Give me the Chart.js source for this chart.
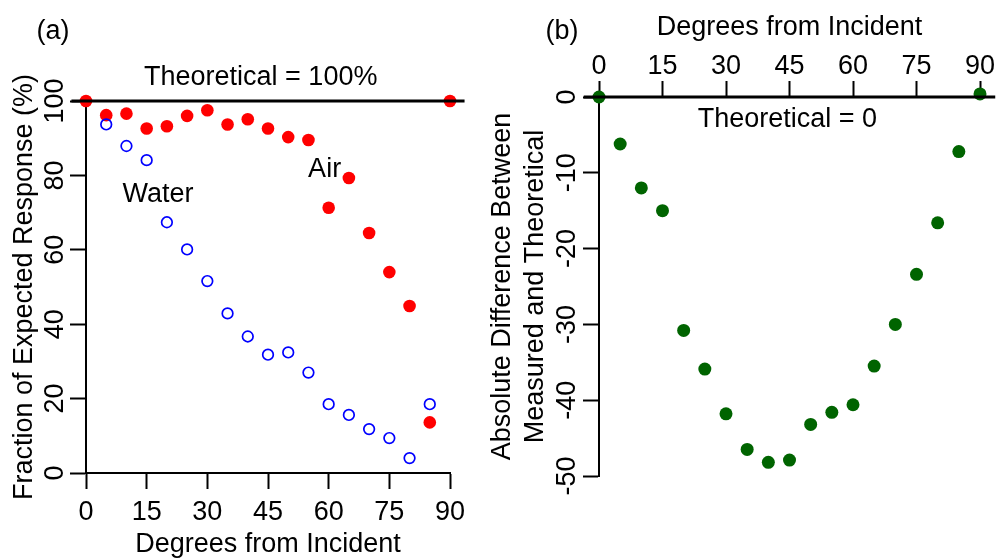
<!DOCTYPE html>
<html>
<head>
<meta charset="utf-8">
<script src="https://cdn.jsdelivr.net/npm/chart.js"></script>
<style>
  body { margin: 0; background: #fff; }
  .panel { position: absolute; top: 0; height: 558px; }
  #wrapA { left: 0; width: 480px; }
  #wrapB { left: 480px; width: 517px; }
</style>
</head>
<body>
<div class="panel" id="wrapA"><canvas id="chartA"></canvas></div>
<div class="panel" id="wrapB"><canvas id="chartB"></canvas></div>
<script>
// data
const degrees = [0, 5, 10, 15, 20, 25, 30, 35, 40, 45, 50, 55, 60, 65, 70, 75, 80, 85, 90];
const air = [100, 96.2, 96.6, 92.6, 93.2, 96.0, 97.5, 93.7, 95.1, 92.6, 90.3, 89.5, 71.3, 79.3, 64.5, 54.0, 44.9, 13.6, 100];
const waterDegrees = [5, 10, 15, 20, 25, 30, 35, 40, 45, 50, 55, 60, 65, 70, 75, 80, 85];
const water = [93.7, 87.9, 84.1, 67.4, 60.1, 51.6, 42.9, 36.7, 31.8, 32.4, 27.0, 18.5, 15.6, 11.8, 9.4, 4.0, 18.5];
const difference = [0, -6.2, -12.0, -15.0, -30.8, -35.9, -41.8, -46.5, -48.2, -47.9, -43.2, -41.6, -40.6, -35.5, -30.0, -23.4, -16.6, -7.2, 0.4];

const xTicks = [0, 15, 30, 45, 60, 75, 90];
const yTicksA = [0, 20, 40, 60, 80, 100];
const yTicksB = [0, -10, -20, -30, -40, -50];
const theoreticalA = 100;
const theoreticalB = 0;

const FONT = '27px "Liberation Sans", Arial, sans-serif';
const usrPad = 0.04; // R-style plot region padding for the reference line

function pts(xs, ys) { return xs.map((x, i) => ({ x: x, y: ys[i] })); }

function text(ctx, s, x, y, rotate) {
  ctx.save();
  ctx.translate(x, y);
  if (rotate) ctx.rotate(-Math.PI / 2);
  ctx.fillText(s, 0, 0);
  ctx.restore();
}

function refLine(chart, value) {
  const xs = chart.scales.x, ys = chart.scales.y;
  const span = xs.max - xs.min;
  const ctx = chart.ctx;
  ctx.save();
  ctx.strokeStyle = '#000';
  ctx.lineWidth = 3;
  ctx.beginPath();
  ctx.moveTo(xs.getPixelForValue(xs.min - usrPad * span), ys.getPixelForValue(value));
  ctx.lineTo(xs.getPixelForValue(xs.max + usrPad * span), ys.getPixelForValue(value));
  ctx.stroke();
  ctx.restore();
}

function axisScales(xOpts, yOpts, xSize, ySize) {
  const common = {
    type: 'linear',
    grid: { drawOnChartArea: false, drawTicks: true, tickLength: 16, tickWidth: 2, tickColor: '#000' },
    border: { display: true, color: '#000', width: 2 },
    ticks: { display: false },
    z: 1
  };
  return {
    x: Object.assign({}, common, xOpts, { afterFit: s => { s.height = xSize; } }),
    y: Object.assign({}, common, yOpts, { afterFit: s => { s.width = ySize; } })
  };
}

const baseOptions = {
  responsive: true,
  maintainAspectRatio: false,
  animation: false,
  events: [],
  plugins: { legend: { display: false }, tooltip: { enabled: false } }
};

// panel (a)
new Chart(document.getElementById('chartA'), {
  type: 'scatter',
  data: {
    datasets: [
      { label: 'Water', data: pts(waterDegrees, water), pointRadius: 5.3, borderWidth: 1.7,
        borderColor: '#0000ff', backgroundColor: 'rgba(0,0,0,0)', clip: false },
      { label: 'Air', data: pts(degrees, air), pointRadius: 6.3, borderWidth: 0,
        backgroundColor: '#ff0000', borderColor: '#ff0000', clip: false }
    ]
  },
  options: Object.assign({}, baseOptions, {
    layout: { padding: { top: 101, right: 30, left: 0, bottom: 0 } },
    scales: axisScales(
      { position: 'bottom', min: 0, max: 90, afterBuildTicks: s => { s.ticks = xTicks.map(v => ({ value: v })); } },
      { position: 'left', min: 0, max: 100, afterBuildTicks: s => { s.ticks = yTicksA.map(v => ({ value: v })); } },
      85, 86)
  }),
  plugins: [{
    id: 'panelA',
    afterDatasetsDraw(chart) { refLine(chart, theoreticalA); },
    afterDraw(chart) {
      const ctx = chart.ctx, xs = chart.scales.x, ys = chart.scales.y, a = chart.chartArea;
      ctx.save();
      ctx.font = FONT;
      ctx.fillStyle = '#000';
      ctx.textAlign = 'center';
      ctx.textBaseline = 'alphabetic';
      xTicks.forEach(v => text(ctx, String(v), xs.getPixelForValue(v), 520));
      yTicksA.forEach(v => text(ctx, String(v), 63, ys.getPixelForValue(v), true));
      text(ctx, 'Degrees from Incident', (a.left + a.right) / 2, 551.5);
      text(ctx, 'Fraction of Expected Response (%)', 32, (a.top + a.bottom) / 2, true);
      text(ctx, '(a)', 53, 39);
      text(ctx, 'Theoretical = 100%', xs.getPixelForValue(43.2), ys.getPixelForValue(104.2));
      text(ctx, 'Water', xs.getPixelForValue(17.8), ys.getPixelForValue(72.9));
      text(ctx, 'Air', xs.getPixelForValue(59), ys.getPixelForValue(79.6));
      ctx.restore();
    }
  }]
});

// panel (b)
new Chart(document.getElementById('chartB'), {
  type: 'scatter',
  data: {
    datasets: [
      { label: 'Difference', data: pts(degrees, difference), pointRadius: 6.5, borderWidth: 0,
        backgroundColor: '#006400', borderColor: '#006400', clip: false }
    ]
  },
  options: Object.assign({}, baseOptions, {
    layout: { padding: { top: 0, right: 17, left: 0, bottom: 82 } },
    scales: axisScales(
      { position: 'top', min: 0, max: 90, afterBuildTicks: s => { s.ticks = xTicks.map(v => ({ value: v })); } },
      { position: 'left', min: -50, max: 0, afterBuildTicks: s => { s.ticks = yTicksB.map(v => ({ value: v })); } },
      97, 119)
  }),
  plugins: [{
    id: 'panelB',
    afterDatasetsDraw(chart) { refLine(chart, theoreticalB); },
    afterDraw(chart) {
      const ctx = chart.ctx, xs = chart.scales.x, ys = chart.scales.y, a = chart.chartArea;
      ctx.save();
      ctx.font = FONT;
      ctx.fillStyle = '#000';
      ctx.textAlign = 'center';
      ctx.textBaseline = 'alphabetic';
      xTicks.forEach(v => text(ctx, String(v), xs.getPixelForValue(v), 73.5));
      yTicksB.forEach(v => text(ctx, String(v), 95, ys.getPixelForValue(v), true));
      text(ctx, 'Degrees from Incident', (a.left + a.right) / 2, 35);
      const midY = (a.top + a.bottom) / 2;
      text(ctx, 'Absolute Difference Between', 30, midY, true);
      text(ctx, 'Measured and Theoretical', 63, midY, true);
      text(ctx, '(b)', 82, 39);
      text(ctx, 'Theoretical = 0', xs.getPixelForValue(44.5), ys.getPixelForValue(-3.96));
      ctx.restore();
    }
  }]
});
</script>
</body>
</html>
